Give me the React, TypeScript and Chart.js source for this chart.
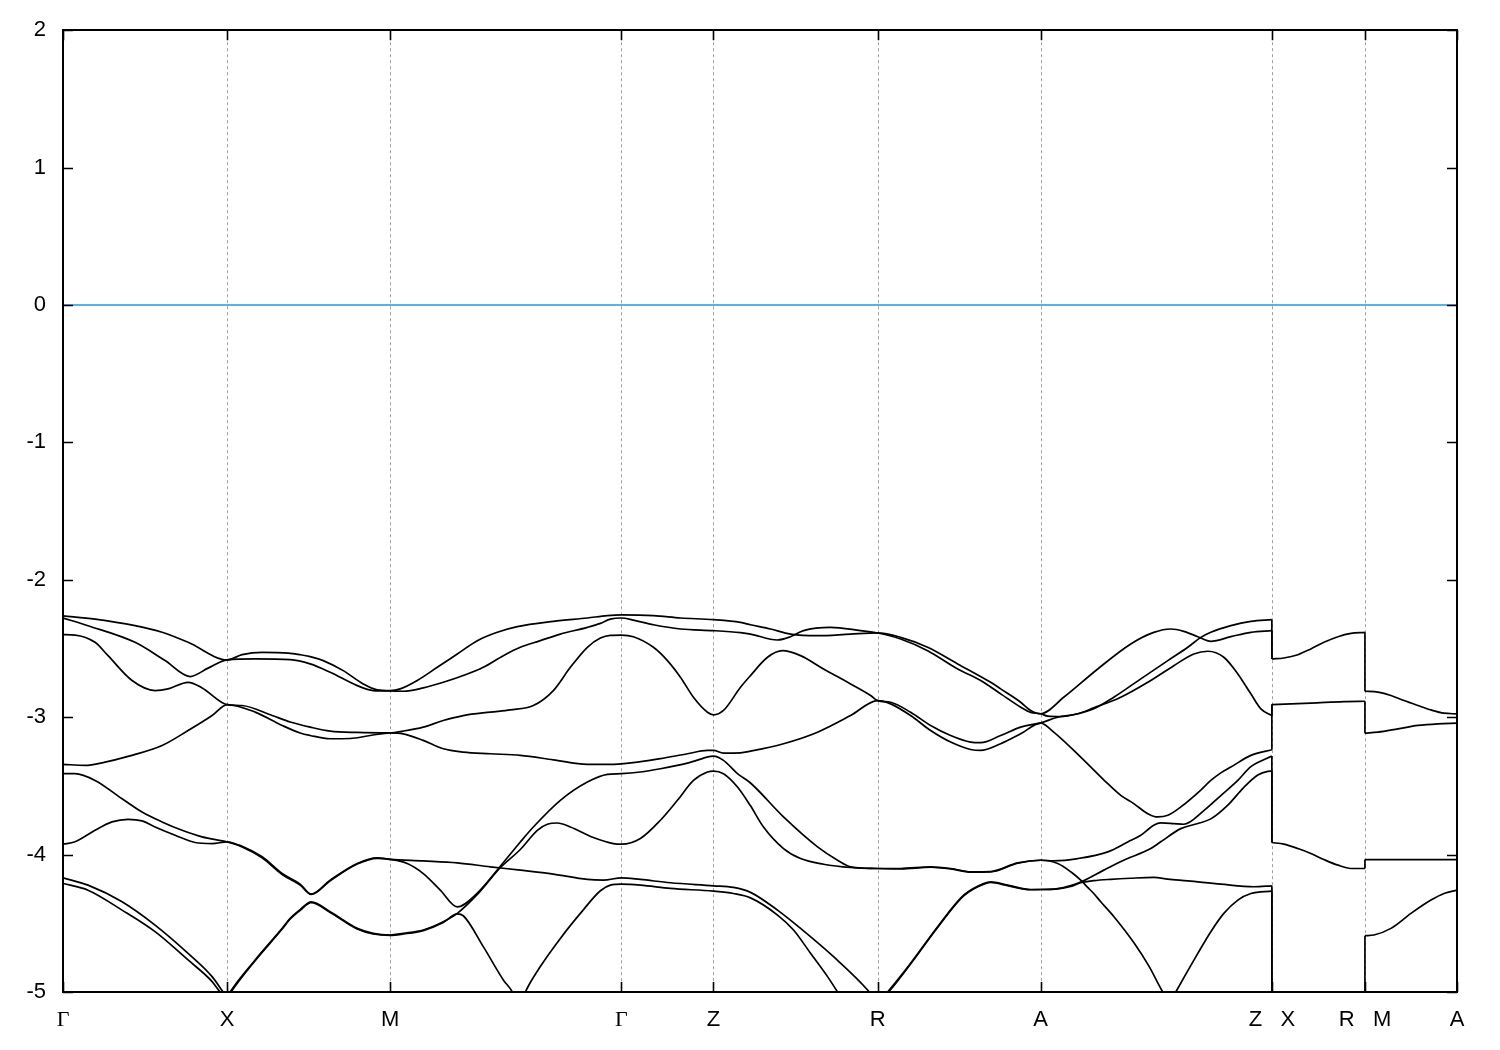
import React, { useEffect, useRef } from 'react';
import { Chart, registerables } from 'chart.js';

Chart.register(...registerables);

type P = [number, number];

// High-symmetry k-path positions and labels
const kTicks = [0, 1.64, 3.27, 5.58, 6.5, 8.14, 9.77, 12.08, 13.01, 13.93];
const kLabels = ['Γ', 'X', 'M', 'Γ', 'Z', 'R', 'A', 'Z   X', 'R   M', 'A'];
const yTicks = [2, 1, 0, -1, -2, -3, -4, -5];

// Fermi level
const fermi: P[] = [[0, 0], [13.93, 0]];

// Bands along Γ-X-M-Γ-Z-R-A-Z
const band1: P[] = [
  [0, -2.262], [0.32, -2.286], [0.72, -2.334], [0.99, -2.382], [1.25, -2.455], [1.64, -2.583],
  [1.79, -2.545], [1.99, -2.528], [2.25, -2.533], [2.37, -2.545], [2.47, -2.559], [2.6, -2.588], [2.8, -2.661], [3.0, -2.758], [3.14, -2.801], [3.27, -2.806],
  [3.37, -2.794], [3.54, -2.733], [3.74, -2.637], [3.94, -2.54], [4.14, -2.443], [4.34, -2.382], [4.54, -2.341], [4.9, -2.303], [5.24, -2.278], [5.44, -2.261], [5.58, -2.256],
  [5.9, -2.261], [6.17, -2.278], [6.5, -2.29],
  [6.77, -2.31], [6.87, -2.327], [7.07, -2.358], [7.27, -2.395], [7.54, -2.407], [7.87, -2.395], [8.14, -2.387],
  [8.37, -2.419], [8.64, -2.491], [8.94, -2.612], [9.27, -2.746], [9.37, -2.794], [9.57, -2.891], [9.67, -2.951], [9.77, -2.975],
  [10.0, -2.855], [10.34, -2.649], [10.67, -2.467], [10.9, -2.383], [11.07, -2.358], [11.2, -2.375], [11.34, -2.414], [11.47, -2.448], [11.67, -2.414], [11.87, -2.382], [12.08, -2.37],
];
const band2: P[] = [
  [0, -2.278], [0.25, -2.334], [0.72, -2.455], [1.02, -2.588], [1.27, -2.704], [1.45, -2.643], [1.64, -2.583],
  [1.92, -2.576], [2.27, -2.581], [2.47, -2.612], [2.67, -2.673], [2.94, -2.77], [3.1, -2.806], [3.27, -2.809],
  [3.4, -2.811], [3.6, -2.787], [3.8, -2.746], [4.0, -2.697], [4.2, -2.637], [4.4, -2.552], [4.57, -2.491], [4.77, -2.443], [4.97, -2.395], [5.24, -2.346], [5.37, -2.317], [5.47, -2.286], [5.58, -2.278],
  [5.7, -2.293], [5.9, -2.327], [6.17, -2.358], [6.5, -2.37],
  [6.77, -2.385], [6.87, -2.395], [7.14, -2.438], [7.27, -2.414], [7.4, -2.37], [7.67, -2.346], [7.97, -2.37], [8.14, -2.387],
  [8.37, -2.431], [8.64, -2.516], [8.94, -2.649], [9.17, -2.733], [9.37, -2.83], [9.57, -2.927], [9.67, -2.965], [9.77, -2.975],
  [9.84, -2.992], [9.97, -2.995], [10.14, -2.975], [10.3, -2.939], [10.5, -2.855], [10.77, -2.721], [11.04, -2.588], [11.24, -2.491], [11.37, -2.419], [11.47, -2.382], [11.67, -2.334], [11.87, -2.303], [12.08, -2.29],
];
const band3: P[] = [
  [0, -2.399], [0.12, -2.402], [0.32, -2.455], [0.45, -2.552], [0.69, -2.733], [0.92, -2.806], [1.05, -2.794], [1.25, -2.746], [1.39, -2.787], [1.64, -2.908],
  [1.79, -2.915], [2.09, -2.988], [2.27, -3.035], [2.47, -3.072], [2.67, -3.101], [2.94, -3.111], [3.27, -3.114],
  [3.4, -3.101], [3.6, -3.072], [3.8, -3.024], [4.0, -2.988], [4.27, -2.963], [4.47, -2.947], [4.7, -2.915], [4.9, -2.806], [5.07, -2.637], [5.24, -2.491], [5.37, -2.424], [5.47, -2.404], [5.58, -2.402],
  [5.7, -2.414], [5.9, -2.491], [6.04, -2.588], [6.17, -2.709], [6.3, -2.855], [6.44, -2.964], [6.5, -2.983], [6.6, -2.951], [6.77, -2.782], [6.87, -2.697],
  [7.04, -2.564], [7.19, -2.516], [7.37, -2.552], [7.6, -2.649], [7.87, -2.758], [8.07, -2.842], [8.14, -2.879],
  [8.27, -2.891], [8.47, -2.964], [8.67, -3.06], [8.87, -3.133], [9.07, -3.181], [9.17, -3.185], [9.37, -3.133], [9.57, -3.072], [9.77, -3.041],
  [9.94, -3.0], [10.14, -2.975], [10.3, -2.932], [10.57, -2.855], [10.84, -2.746], [11.1, -2.625], [11.3, -2.54], [11.44, -2.52], [11.6, -2.564], [11.74, -2.685], [11.87, -2.83], [11.97, -2.939], [12.08, -2.988],
];
const band4: P[] = [
  [0, -3.343], [0.22, -3.351], [0.42, -3.327], [0.65, -3.285], [0.99, -3.206], [1.25, -3.097], [1.49, -2.988], [1.64, -2.908],
  [1.92, -2.963], [2.19, -3.06], [2.37, -3.115], [2.47, -3.133], [2.67, -3.157], [2.87, -3.155], [3.07, -3.133], [3.27, -3.114],
  [3.4, -3.121], [3.6, -3.169], [3.8, -3.23], [4.0, -3.254], [4.27, -3.266], [4.57, -3.278], [4.9, -3.31], [5.24, -3.343], [5.44, -3.343], [5.58, -3.339],
  [5.74, -3.327], [5.97, -3.302], [6.24, -3.266], [6.44, -3.242], [6.5, -3.242], [6.6, -3.261], [6.77, -3.259], [6.87, -3.247],
  [7.2, -3.193], [7.54, -3.109], [7.87, -2.988], [8.14, -2.879],
  [8.27, -2.903], [8.47, -2.988], [8.67, -3.097], [8.87, -3.181], [9.07, -3.235], [9.17, -3.242], [9.37, -3.193], [9.57, -3.121], [9.77, -3.043],
  [9.9, -3.108], [10.17, -3.29], [10.44, -3.484], [10.57, -3.569], [10.7, -3.629], [10.84, -3.702], [10.94, -3.726], [11.04, -3.714], [11.17, -3.653], [11.37, -3.53], [11.47, -3.46], [11.57, -3.405], [11.67, -3.363], [11.87, -3.278], [12.08, -3.237],
];
const band5: P[] = [
  [0, -3.411], [0.12, -3.411], [0.32, -3.46], [0.59, -3.593], [0.79, -3.69], [0.99, -3.762], [1.19, -3.823], [1.39, -3.871], [1.64, -3.908],
  [1.79, -3.939], [1.99, -4.016], [2.19, -4.137], [2.37, -4.215], [2.48, -4.288],
  [2.67, -4.186], [2.94, -4.065], [3.14, -4.024], [3.27, -4.035],
  [3.6, -4.046], [3.94, -4.06], [4.27, -4.089], [4.57, -4.113], [4.9, -4.142], [5.24, -4.181], [5.4, -4.186], [5.58, -4.169],
  [5.77, -4.181], [6.07, -4.205], [6.5, -4.227], [6.7, -4.239], [6.87, -4.275],
  [7.14, -4.404], [7.37, -4.537], [7.7, -4.743], [8.04, -4.985], [8.14, -5.08],
  [8.24, -5.0], [8.47, -4.791], [8.74, -4.525], [9.0, -4.295], [9.2, -4.21], [9.27, -4.198], [9.44, -4.222], [9.67, -4.254], [9.77, -4.254],
  [9.94, -4.247], [10.07, -4.225], [10.17, -4.2], [10.4, -4.113], [10.6, -4.041], [10.87, -3.956], [10.97, -3.907], [11.17, -3.811], [11.34, -3.774], [11.47, -3.74], [11.64, -3.64], [11.8, -3.51], [11.94, -3.42], [12.04, -3.394], [12.08, -3.392],
];
const band6: P[] = [
  [0, -3.924], [0.12, -3.907], [0.32, -3.823], [0.49, -3.762], [0.65, -3.743], [0.79, -3.755], [0.92, -3.799], [1.12, -3.859], [1.32, -3.912], [1.49, -3.92], [1.64, -3.908],
  [1.79, -3.945], [1.99, -4.024], [2.19, -4.145], [2.37, -4.222], [2.48, -4.29],
  [2.67, -4.19], [2.94, -4.068], [3.14, -4.027], [3.27, -4.035],
  [3.44, -4.065], [3.6, -4.138], [3.77, -4.258], [3.94, -4.38],
  [4.14, -4.28], [4.37, -4.085], [4.57, -3.908], [4.7, -3.799], [4.97, -3.605], [5.24, -3.472], [5.44, -3.416], [5.58, -3.411],
  [5.77, -3.399], [5.97, -3.375], [6.24, -3.334], [6.47, -3.285], [6.5, -3.283], [6.6, -3.314], [6.74, -3.411], [6.87, -3.479],
  [7.2, -3.726], [7.54, -3.944], [7.74, -4.041], [7.87, -4.089], [8.14, -4.101],
  [8.37, -4.101], [8.67, -4.089], [8.87, -4.101], [9.07, -4.125], [9.27, -4.123], [9.54, -4.06], [9.77, -4.041],
  [9.9, -4.045], [10.14, -4.029], [10.44, -3.98], [10.64, -3.908], [10.77, -3.859], [10.9, -3.786], [10.97, -3.769], [11.1, -3.774], [11.2, -3.779], [11.4, -3.68], [11.57, -3.57], [11.74, -3.46], [11.87, -3.36], [12.08, -3.283],
];
const band7: P[] = [
  [0, -4.169], [0.25, -4.222], [0.59, -4.343], [0.92, -4.513], [1.25, -4.719], [1.49, -4.888], [1.6, -5.0], [1.64, -5.04],
  [1.67, -5.0], [1.92, -4.767], [2.19, -4.537], [2.27, -4.464], [2.37, -4.4], [2.48, -4.343],
  [2.67, -4.416], [2.94, -4.537], [3.1, -4.573], [3.27, -4.585],
  [3.4, -4.573], [3.6, -4.549], [3.8, -4.489], [3.94, -4.428],
  [4.14, -4.29], [4.37, -4.095], [4.57, -3.963], [4.74, -3.823], [4.84, -3.779], [4.94, -3.77], [5.07, -3.799], [5.3, -3.876], [5.5, -3.92], [5.58, -3.924],
  [5.77, -3.883], [5.97, -3.75], [6.14, -3.605], [6.3, -3.46], [6.44, -3.399], [6.5, -3.392], [6.6, -3.411], [6.74, -3.508], [6.87, -3.645],
  [7.0, -3.799], [7.2, -3.956], [7.37, -4.029], [7.6, -4.07], [7.87, -4.094], [8.14, -4.101],
  [8.37, -4.104], [8.67, -4.092], [8.87, -4.104], [9.07, -4.128], [9.27, -4.126], [9.54, -4.063], [9.77, -4.041],
  [9.94, -4.065], [10.07, -4.125], [10.17, -4.186], [10.24, -4.239], [10.3, -4.283], [10.37, -4.343], [10.5, -4.45], [10.7, -4.64], [10.85, -4.81], [10.99, -5.0], [11.06, -5.08], [11.12, -5.0], [11.34, -4.719], [11.47, -4.561], [11.6, -4.428], [11.74, -4.331], [11.87, -4.283], [12.08, -4.266],
];
const band8: P[] = [
  [0, -4.21], [0.25, -4.259], [0.59, -4.404], [0.92, -4.561], [1.25, -4.767], [1.49, -4.924], [1.57, -5.0], [1.64, -5.05],
  [1.68, -5.0], [1.92, -4.772], [2.19, -4.542], [2.27, -4.469], [2.37, -4.405], [2.48, -4.35],
  [2.67, -4.421], [2.94, -4.542], [3.1, -4.578], [3.27, -4.588],
  [3.4, -4.578], [3.6, -4.553], [3.8, -4.494], [3.94, -4.432],
  [4.0, -4.445], [4.2, -4.67], [4.4, -4.912], [4.49, -5.0], [4.555, -5.12], [4.62, -5.0], [4.77, -4.815], [4.97, -4.61], [5.17, -4.428], [5.37, -4.263], [5.47, -4.222], [5.58, -4.215],
  [5.77, -4.222], [6.07, -4.246], [6.5, -4.266], [6.7, -4.283], [6.87, -4.315],
  [7.14, -4.44], [7.3, -4.549], [7.47, -4.718], [7.64, -4.888], [7.74, -5.0], [7.95, -5.25], [8.14, -5.08],
  [8.25, -5.0], [8.47, -4.796], [8.74, -4.53], [9.0, -4.3], [9.2, -4.215], [9.27, -4.203], [9.44, -4.226], [9.67, -4.256], [9.77, -4.254],
  [9.94, -4.25], [10.07, -4.232], [10.17, -4.205], [10.3, -4.19], [10.47, -4.18], [10.67, -4.172], [10.9, -4.166], [11.04, -4.178], [11.24, -4.191], [11.57, -4.215], [11.9, -4.234], [12.08, -4.227],
];

// X-R segment (pairs of degenerate bands)
const xr12: P[] = [[12.08, -2.576], [12.2, -2.569], [12.34, -2.545], [12.47, -2.503], [12.6, -2.455], [12.74, -2.414], [12.87, -2.39], [13.01, -2.382]];
const xr34: P[] = [[12.08, -2.908], [12.47, -2.898], [12.8, -2.886], [13.01, -2.884]];
const xr56: P[] = [[12.08, -3.912], [12.2, -3.924], [12.34, -3.956], [12.47, -3.992], [12.6, -4.036], [12.74, -4.077], [12.87, -4.101], [13.01, -4.101]];
const xr78: P[] = [[12.08, -5.05], [12.55, -5.2], [13.01, -5.08]];

// M-A segment
const ma12: P[] = [[13.01, -2.811], [13.14, -2.818], [13.27, -2.842], [13.4, -2.879], [13.54, -2.915], [13.67, -2.947], [13.8, -2.971], [13.93, -2.976]];
const ma34: P[] = [[13.01, -3.116], [13.14, -3.109], [13.34, -3.085], [13.54, -3.06], [13.74, -3.048], [13.93, -3.043]];
const ma56: P[] = [[13.01, -4.036], [13.47, -4.036], [13.93, -4.036]];
const ma78: P[] = [[13.01, -4.59], [13.1, -4.585], [13.27, -4.537], [13.47, -4.428], [13.67, -4.331], [13.8, -4.283], [13.93, -4.258]];

const bands = [band1, band2, band3, band4, band5, band6, band7, band8];
const xrSegs = [xr12, xr34, xr56, xr78];
const maSegs = [ma12, ma34, ma56, ma78];

const SANS = 'Liberation Sans, Arial, sans-serif';
const SERIF = 'Liberation Serif, Times New Roman, serif';
const FONT_SIZE = 22;
const BAND_WIDTH = 1.7;

function ds(pts: P[], color = '#000000', width = BAND_WIDTH, smooth = true) {
  return {
    data: pts.map(([x, y]) => ({ x, y })),
    borderColor: color,
    borderWidth: width,
    pointRadius: 0,
    pointHoverRadius: 0,
    fill: false,
    tension: 0,
    cubicInterpolationMode: smooth ? 'monotone' : 'default',
    capBezierPoints: false,
  };
}

const framePlugin = {
  id: 'bandFrame',
  beforeDatasetsDraw(chart: any) {
    const { ctx, chartArea, scales } = chart;
    const { top, bottom } = chartArea;
    ctx.save();
    ctx.strokeStyle = '#a0a0a0';
    ctx.lineWidth = 1;
    ctx.setLineDash([3, 3]);
    kTicks.forEach((k) => {
      if (k <= kTicks[0] || k >= kTicks[kTicks.length - 1]) return;
      const px = Math.round(scales.x.getPixelForValue(k)) + 0.5;
      ctx.beginPath();
      ctx.moveTo(px, top);
      ctx.lineTo(px, bottom);
      ctx.stroke();
    });
    ctx.restore();
  },
  afterDatasetsDraw(chart: any) {
    const { ctx, chartArea, scales } = chart;
    const { left, right, top, bottom } = chartArea;
    ctx.save();
    ctx.strokeStyle = '#000000';
    ctx.lineWidth = 2;
    ctx.setLineDash([]);
    ctx.strokeRect(Math.round(left), Math.round(top), Math.round(right - left), Math.round(bottom - top));
    const tl = 10;
    ctx.lineWidth = 1.6;
    ctx.beginPath();
    kTicks.forEach((k) => {
      const px = Math.round(scales.x.getPixelForValue(k)) + 0.5;
      ctx.moveTo(px, bottom);
      ctx.lineTo(px, bottom - tl);
      ctx.moveTo(px, top);
      ctx.lineTo(px, top + tl);
    });
    yTicks.forEach((v) => {
      const py = Math.round(scales.y.getPixelForValue(v)) + 0.5;
      ctx.moveTo(left, py);
      ctx.lineTo(left + tl, py);
      ctx.moveTo(right, py);
      ctx.lineTo(right - tl, py);
    });
    ctx.stroke();
    ctx.restore();
  },
};

export default function App() {
  const ref = useRef<HTMLCanvasElement | null>(null);

  useEffect(() => {
    const canvas = ref.current;
    if (!canvas) return;
    const datasets: any[] = [];
    datasets.push(ds(fermi, '#56b4e9', 2, false));
    bands.forEach((b, i) => {
      const seg = xrSegs[Math.floor(i / 2)];
      datasets.push(ds(b));
      datasets.push(ds([b[b.length - 1], seg[0]], '#000000', BAND_WIDTH, false));
    });
    xrSegs.forEach((seg, j) => {
      const ma = maSegs[j];
      datasets.push(ds(seg));
      datasets.push(ds([seg[seg.length - 1], ma[0]], '#000000', BAND_WIDTH, false));
      datasets.push(ds(ma));
    });

    const chart = new Chart(canvas, {
      type: 'line',
      data: { datasets },
      options: {
        animation: false,
        responsive: false,
        devicePixelRatio: 1,
        layout: { padding: { left: 0, top: 28, right: 43, bottom: 0 } },
        plugins: { legend: { display: false }, tooltip: { enabled: false } },
        events: [],
        scales: {
          x: {
            type: 'linear',
            min: 0,
            max: 13.93,
            afterBuildTicks: (s: any) => {
              s.ticks = kTicks.map((v) => ({ value: v }));
            },
            afterFit: (s: any) => {
              s.height = 58;
            },
            grid: { display: false, drawTicks: false },
            border: { display: false },
            ticks: {
              autoSkip: false,
              maxRotation: 0,
              minRotation: 0,
              padding: 15,
              color: '#000000',
              font: (c: any) => ({
                family: kLabels[c.index] === 'Γ' ? SERIF : SANS,
                size: FONT_SIZE,
              }),
              callback: (_v: any, i: number) => kLabels[i],
            },
          },
          y: {
            type: 'linear',
            min: -5,
            max: 2,
            afterBuildTicks: (s: any) => {
              s.ticks = yTicks.map((v) => ({ value: v }));
            },
            afterFit: (s: any) => {
              s.width = 63;
            },
            grid: { display: false, drawTicks: false },
            border: { display: false },
            ticks: {
              padding: 17,
              color: '#000000',
              font: { family: SANS, size: FONT_SIZE },
              callback: (v: any) => String(v),
            },
          },
        },
      } as any,
      plugins: [framePlugin],
    });
    return () => chart.destroy();
  }, []);

  return (
    <div style={{ position: 'absolute', left: 0, top: 0, width: 1500, height: 1050, background: '#ffffff' }}>
      <canvas ref={ref} width={1500} height={1050} style={{ width: 1500, height: 1050, display: 'block' }} />
    </div>
  );
}
